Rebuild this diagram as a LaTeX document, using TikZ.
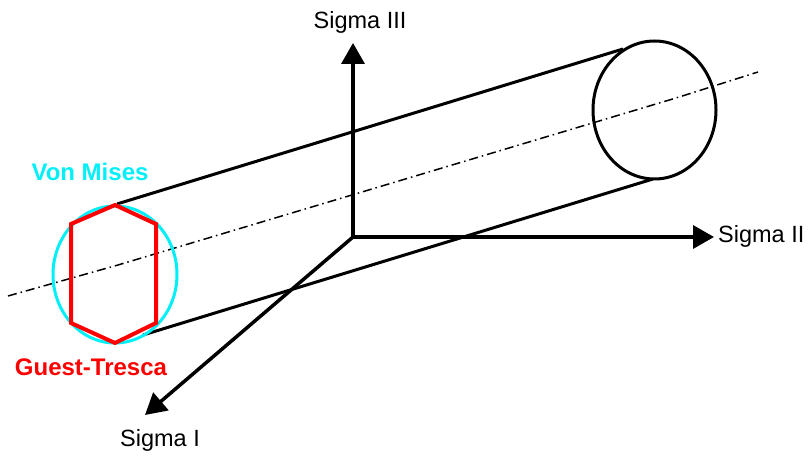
\documentclass[tikz,border=0pt]{standalone}
\usepackage{fontspec}
\setmainfont{Liberation Sans}
\usetikzlibrary{arrows.meta}
\definecolor{vmcyan}{RGB}{0,240,250}
\definecolor{gtred}{RGB}{255,0,0}
\begin{document}
\begin{tikzpicture}[x=1bp,y=-1bp,
  axisline/.style={line width=3.5bp,-{Triangle[length=21bp,width=23bp]}},
  cylline/.style={line width=3bp},
  lbl/.style={font=\fontsize{23.5bp}{26bp}\selectfont, inner sep=0pt},
  critlbl/.style={font=\fontsize{24bp}{27bp}\selectfont\bfseries, inner sep=0pt},
  hydro/.style={line width=1.5bp, dash pattern=on 9bp off 4bp on 1.5bp off 4bp}
]
\useasboundingbox (0,0) rectangle (810,456);
% hydrostatic axis
\coordinate (h0) at (8,296);
\coordinate (h1) at (118,265);
\coordinate (h2) at (676,98);
\coordinate (h3) at (758,72);
\draw[hydro] (h0) -- (h1) -- (h2) -- (h3);
% cylinder
\coordinate (rc) at (654.5,110);
\draw[cylline] (rc) ellipse [x radius=61.5, y radius=69];
\coordinate (t0) at (117,204);
\coordinate (t1) at (623,49);
\coordinate (b0) at (143,335);
\coordinate (b1) at (653,179);
\draw[cylline] (t0) -- (t1);
\draw[cylline] (b0) -- (b1);
% axes
\coordinate (O) at (353,237);
\coordinate (s3) at (353,43);
\coordinate (s2) at (714,237);
\coordinate (s1) at (145,415);
\draw[axisline] (O) -- (s3);
\draw[axisline] (O) -- (s2);
\draw[axisline] (O) -- (s1);
\node[lbl] (l3) at (360,22) {Sigma III};
\node[lbl, anchor=west] (l2) at (718,236) {Sigma II};
\node[lbl] (l1) at (160,440) {Sigma I};
% Von Mises circle
\coordinate (lc) at (115,274.5);
\draw[vmcyan, line width=3bp] (lc) ellipse [x radius=62, y radius=68.5];
% Tresca hexagon
\draw[gtred, line width=4bp, line join=miter]
  (115,205) -- (156,224) -- (156,323) -- (115,343) -- (71,323) -- (71,224) -- cycle;
\node[critlbl, text=vmcyan] (vm) at (90,172) {Von Mises};
\node[critlbl, text=gtred] (gt) at (91,367) {Guest-Tresca};
\end{tikzpicture}
\end{document}
